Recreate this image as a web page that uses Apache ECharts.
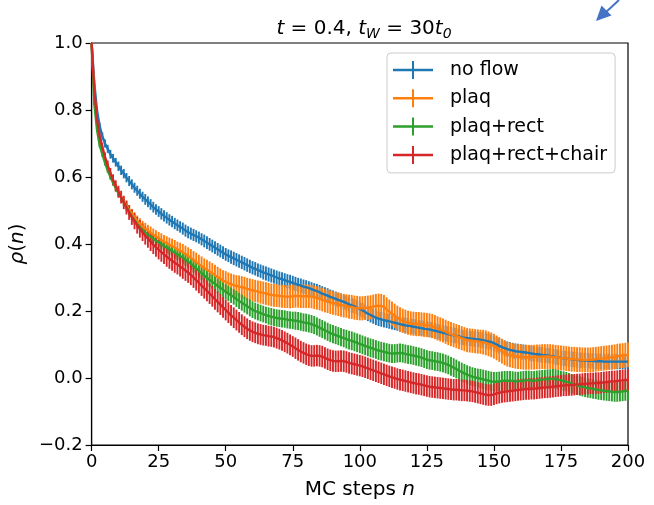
<!DOCTYPE html>
<html><head><meta charset="utf-8">
<script src="https://cdn.jsdelivr.net/npm/echarts@6/dist/echarts.min.js"></script>
<style>html,body{margin:0;padding:0;background:#fff}#c{width:654px;height:505px}</style>
</head><body><div id="c"></div>
<script>
const seriesNames = ['no flow', 'plaq', 'plaq+rect', 'plaq+rect+chair'];
const seriesColors = ['#1f77b4', '#ff7f0e', '#2ca02c', '#d62728'];
const xTickStep = 25;
const yTickStep = 0.2;

// values at MC steps n = 0..200
const noFlow = [
1.000,.880,.800,.752,.722,.700,.684,.668,.656,.644,
.632,.620,.610,.598,.588,.578,.568,.559,.550,.541,
.533,.526,.518,.510,.503,.497,.490,.484,.478,.472,
.467,.461,.456,.451,.446,.440,.435,.431,.427,.423,
.419,.414,.409,.404,.399,.394,.389,.384,.379,.374,
.369,.365,.361,.357,.353,.349,.345,.341,.337,.333,
.329,.326,.322,.319,.315,.312,.309,.306,.303,.300,
.297,.295,.292,.289,.287,.284,.281,.278,.276,.273,
.271,.268,.265,.262,.259,.256,.252,.249,.246,.242,
.239,.236,.233,.230,.227,.224,.220,.217,.214,.210,
.206,.202,.197,.192,.188,.184,.180,.177,.175,.173,
.171,.169,.167,.165,.163,.161,.159,.157,.156,.155,
.153,.152,.150,.149,.147,.146,.145,.143,.141,.139,
.137,.135,.133,.131,.129,.127,.126,.124,.122,.120,
.119,.118,.117,.116,.115,.114,.113,.111,.109,.107,
.104,.100,.096,.092,.089,.086,.084,.082,.080,.079,
.078,.077,.076,.075,.073,.072,.071,.070,.069,.068,
.067,.066,.065,.063,.062,.060,.059,.058,.057,.056,
.055,.054,.053,.053,.052,.052,.051,.051,.050,.050,
.050,.049,.049,.049,.049,.049,.049,.049,.049,.049,
.049];
const noFlowErr = [
0,.008,.009,.010,.011,.012,.012,.013,.013,.013,
.014,.014,.014,.014,.015,.015,.015,.015,.015,.015,
.016,.016,.016,.016,.016,.016,.017,.017,.017,.017,
.017,.017,.017,.017,.018,.018,.018,.018,.018,.018,
.018,.018,.019,.019,.019,.019,.019,.019,.019,.019,
.019,.019,.020,.020,.020,.020,.020,.020,.020,.020,
.020,.020,.020,.020,.021,.021,.021,.021,.021,.021,
.021,.021,.021,.021,.021,.021,.021,.021,.021,.021,
.021,.021,.021,.021,.022,.022,.022,.022,.022,.022,
.022,.022,.022,.022,.022,.022,.022,.022,.022,.022,
.022,.022,.022,.022,.022,.022,.022,.022,.022,.022,
.022,.022,.022,.022,.022,.023,.023,.023,.023,.023,
.023,.023,.023,.023,.023,.023,.023,.023,.023,.023,
.023,.023,.023,.023,.023,.023,.023,.023,.023,.023,
.023,.023,.023,.023,.023,.023,.023,.023,.023,.023,
.023,.023,.023,.023,.023,.023,.023,.023,.023,.023,
.023,.023,.023,.023,.023,.023,.023,.023,.023,.023,
.023,.023,.023,.023,.023,.023,.023,.023,.023,.023,
.023,.023,.023,.023,.023,.023,.023,.023,.023,.023,
.023,.023,.023,.023,.023,.023,.023,.023,.023,.023,
.023];

const plaq = [
1.000,.850,.762,.712,.680,.652,.628,.606,.587,.570,
.555,.541,.527,.514,.502,.491,.480,.470,.461,.453,
.446,.440,.434,.428,.422,.417,.412,.407,.402,.398,
.394,.389,.384,.380,.375,.370,.364,.358,.352,.346,
.340,.334,.328,.323,.318,.313,.307,.301,.296,.291,
.287,.283,.280,.277,.275,.273,.271,.269,.266,.264,
.262,.260,.258,.256,.254,.252,.250,.248,.247,.246,
.245,.244,.243,.243,.243,.244,.245,.245,.244,.244,
.244,.244,.243,.241,.239,.237,.234,.231,.229,.226,
.224,.222,.220,.218,.216,.215,.213,.212,.210,.209,
.208,.208,.209,.210,.211,.213,.215,.216,.215,.212,
.205,.198,.192,.186,.180,.175,.171,.168,.165,.163,
.162,.161,.161,.160,.159,.158,.157,.155,.152,.148,
.145,.142,.138,.134,.131,.128,.125,.122,.119,.116,
.113,.112,.111,.110,.109,.108,.107,.105,.102,.099,
.095,.090,.085,.080,.075,.071,.069,.067,.065,.064,
.063,.062,.062,.062,.062,.062,.063,.063,.064,.064,
.064,.064,.063,.062,.061,.060,.059,.058,.057,.056,
.056,.055,.055,.054,.054,.054,.054,.055,.056,.057,
.058,.059,.060,.061,.062,.063,.065,.066,.067,.068,
.069];
const plaqErr = [
0,.006,.007,.008,.009,.009,.010,.010,.011,.011,
.012,.012,.013,.013,.014,.014,.015,.015,.016,.016,
.017,.017,.018,.018,.019,.019,.020,.020,.021,.021,
.022,.023,.023,.024,.025,.025,.026,.027,.027,.028,
.028,.029,.029,.030,.030,.030,.031,.031,.031,.031,
.032,.032,.032,.032,.032,.033,.033,.033,.033,.033,
.033,.033,.033,.034,.034,.034,.034,.034,.034,.034,
.034,.034,.034,.034,.035,.035,.035,.035,.035,.035,
.035,.035,.035,.035,.035,.035,.035,.035,.035,.035,
.035,.035,.035,.035,.035,.035,.036,.036,.036,.036,
.036,.036,.036,.036,.036,.036,.036,.036,.036,.036,
.036,.036,.036,.036,.036,.036,.036,.036,.036,.036,
.036,.036,.036,.036,.036,.036,.036,.036,.036,.036,
.036,.036,.036,.036,.036,.036,.036,.036,.036,.036,
.036,.036,.036,.036,.036,.036,.037,.037,.037,.037,
.037,.037,.037,.037,.037,.037,.037,.037,.037,.037,
.037,.037,.037,.037,.037,.037,.037,.037,.037,.037,
.037,.037,.037,.037,.037,.037,.037,.037,.037,.037,
.037,.037,.037,.037,.037,.037,.037,.037,.037,.037,
.037,.037,.037,.037,.037,.037,.037,.037,.037,.037,
.037];

const plaqRect = [
1.000,.820,.742,.695,.668,.642,.620,.601,.583,.567,
.552,.538,.524,.510,.496,.483,.471,.460,.450,.441,
.434,.428,.422,.416,.410,.405,.399,.394,.389,.384,
.379,.374,.369,.364,.359,.353,.347,.341,.334,.327,
.320,.313,.306,.299,.293,.287,.281,.275,.269,.263,
.257,.252,.247,.242,.236,.230,.225,.219,.214,.209,
.204,.200,.197,.194,.191,.188,.185,.183,.181,.179,
.178,.177,.176,.174,.173,.172,.171,.170,.168,.166,
.165,.163,.161,.158,.154,.150,.146,.142,.138,.134,
.131,.128,.125,.122,.119,.116,.113,.111,.108,.105,
.102,.099,.096,.093,.090,.088,.085,.082,.080,.078,
.076,.074,.073,.073,.074,.075,.074,.072,.070,.069,
.067,.065,.063,.061,.058,.055,.053,.052,.050,.049,
.047,.045,.042,.039,.035,.031,.027,.022,.018,.014,
.010,.007,.004,.002,.000,-.002,-.004,-.006,-.008,-.010,
-.011,-.011,-.010,-.009,-.008,-.008,-.008,-.009,-.010,-.010,
-.009,-.008,-.007,-.007,-.008,-.008,-.007,-.006,-.005,-.004,
-.003,-.003,-.002,-.003,-.005,-.007,-.009,-.011,-.014,-.017,
-.020,-.022,-.024,-.026,-.028,-.030,-.031,-.033,-.034,-.036,
-.037,-.038,-.039,-.040,-.041,-.042,-.042,-.041,-.040,-.039,
-.038];
const plaqRectErr = [
0,.006,.007,.007,.008,.008,.008,.009,.009,.009,
.010,.010,.010,.011,.011,.011,.012,.012,.012,.013,
.013,.013,.014,.014,.014,.015,.015,.015,.016,.016,
.016,.017,.017,.017,.018,.018,.018,.019,.019,.019,
.020,.020,.020,.021,.021,.021,.022,.022,.022,.022,
.023,.023,.023,.023,.024,.024,.024,.024,.024,.025,
.025,.025,.025,.025,.025,.025,.026,.026,.026,.026,
.026,.026,.026,.026,.026,.026,.027,.027,.027,.027,
.027,.027,.027,.027,.027,.027,.027,.027,.027,.027,
.027,.027,.027,.027,.027,.028,.028,.028,.028,.028,
.028,.028,.028,.028,.028,.028,.028,.028,.028,.028,
.028,.028,.028,.028,.028,.028,.028,.028,.028,.028,
.028,.028,.028,.028,.028,.028,.028,.028,.028,.028,
.028,.028,.028,.028,.028,.028,.028,.028,.028,.028,
.028,.028,.028,.028,.028,.029,.029,.029,.029,.029,
.029,.029,.029,.029,.029,.029,.029,.029,.029,.029,
.029,.029,.029,.029,.029,.029,.029,.029,.029,.029,
.029,.029,.029,.029,.029,.029,.029,.029,.029,.029,
.029,.029,.029,.029,.029,.029,.029,.029,.029,.029,
.029,.029,.029,.029,.029,.029,.029,.029,.029,.029,
.029];

const plaqRectChair = [
1.000,.860,.772,.722,.690,.660,.635,.612,.592,.573,
.556,.540,.524,.509,.494,.480,.468,.456,.445,.435,
.425,.416,.407,.398,.390,.383,.376,.369,.362,.356,
.350,.344,.339,.333,.327,.321,.315,.308,.300,.292,
.284,.276,.268,.260,.252,.244,.235,.227,.219,.211,
.203,.195,.187,.180,.173,.166,.159,.153,.147,.142,
.138,.135,.132,.130,.128,.127,.125,.124,.122,.119,
.116,.112,.108,.104,.099,.094,.089,.084,.079,.075,
.071,.068,.066,.066,.067,.066,.064,.060,.056,.053,
.051,.050,.050,.051,.050,.048,.045,.043,.041,.039,
.037,.035,.032,.029,.026,.023,.020,.017,.014,.011,
.008,.005,.002,.000,-.003,-.005,-.007,-.009,-.011,-.013,
-.015,-.017,-.018,-.020,-.022,-.024,-.026,-.027,-.028,-.029,
-.030,-.031,-.032,-.033,-.034,-.035,-.035,-.036,-.037,-.037,
-.038,-.039,-.040,-.042,-.044,-.046,-.048,-.050,-.051,-.051,
-.049,-.046,-.044,-.042,-.041,-.040,-.039,-.038,-.037,-.036,
-.035,-.034,-.033,-.033,-.032,-.032,-.031,-.030,-.029,-.028,
-.028,-.027,-.026,-.025,-.024,-.023,-.022,-.022,-.021,-.021,
-.020,-.019,-.019,-.018,-.017,-.017,-.016,-.016,-.015,-.015,
-.014,-.013,-.012,-.011,-.010,-.010,-.009,-.008,-.007,-.006,
-.006];
const plaqRectChairErr = [
0,.009,.010,.011,.012,.013,.014,.015,.016,.017,
.018,.019,.020,.021,.022,.023,.024,.025,.026,.026,
.027,.027,.028,.028,.028,.029,.029,.029,.030,.030,
.030,.030,.030,.030,.031,.031,.031,.031,.031,.031,
.031,.031,.031,.031,.031,.031,.031,.031,.031,.031,
.031,.031,.031,.031,.031,.031,.031,.031,.031,.031,
.031,.031,.031,.031,.031,.031,.031,.031,.031,.031,
.031,.031,.031,.031,.031,.031,.032,.032,.032,.032,
.032,.032,.032,.032,.032,.032,.032,.032,.032,.032,
.032,.032,.032,.032,.032,.032,.032,.032,.032,.032,
.032,.032,.032,.032,.032,.032,.032,.032,.032,.032,
.032,.032,.032,.032,.032,.032,.032,.032,.032,.032,
.032,.032,.032,.032,.032,.032,.032,.032,.032,.032,
.032,.032,.032,.032,.032,.032,.032,.032,.032,.032,
.032,.032,.032,.032,.032,.032,.032,.032,.032,.032,
.032,.032,.032,.032,.032,.032,.032,.032,.032,.032,
.032,.032,.032,.032,.032,.032,.032,.032,.032,.032,
.032,.032,.032,.032,.032,.032,.032,.032,.032,.032,
.032,.032,.032,.032,.032,.032,.032,.032,.032,.032,
.032,.032,.032,.032,.032,.032,.032,.032,.032,.032,
.032];

const means = [noFlow, plaq, plaqRect, plaqRectChair];
const errs = [noFlowErr, plaqErr, plaqRectErr, plaqRectChairErr];

const FONT = 'DejaVu Sans';
const chart = echarts.init(document.getElementById('c'), null, {renderer: 'canvas'});

function errRender(params, api) {
  const x = api.value(0), y = api.value(1), e = api.value(2);
  const p1 = api.coord([x, y - e]);
  const p2 = api.coord([x, y + e]);
  return {
    type: 'line',
    shape: {x1: p1[0], y1: p1[1], x2: p2[0], y2: p2[1]},
    style: {stroke: api.visual('color'), lineWidth: 1.9}
  };
}

const series = [];
means.forEach((m, k) => {
  series.push({
    type: 'custom', name: seriesNames[k] + ' err', renderItem: errRender,
    data: m.map((v, i) => [i, v, errs[k][i]]),
    encode: {x: 0, y: 1},
    itemStyle: {color: seriesColors[k]},
    z: 2, silent: true
  });
});
means.forEach((m, k) => {
  series.push({
    type: 'line', name: seriesNames[k],
    data: m.map((v, i) => [i, v]),
    showSymbol: false, symbol: 'none',
    lineStyle: {color: seriesColors[k], width: 2.4},
    itemStyle: {color: seriesColors[k]},
    z: 3, silent: true
  });
});

const crossIcon = 'path://M0,7.75h40v2.5h-40z M19,0h2v18h-2z';

chart.setOption({
  animation: false,
  backgroundColor: '#fff',
  title: {
    text: '{i|t} = 0.4, {i|t}{s|W} = 30{i|t}{s|0}',
    left: 359, top: 11, textAlign: 'center',
    textStyle: {
      fontFamily: FONT, fontSize: 20, fontWeight: 'normal', color: '#000', lineHeight: 25,
      rich: {
        i: {fontFamily: FONT, fontStyle: 'italic', fontSize: 20, lineHeight: 25, color: '#000'},
        s: {fontFamily: FONT, fontStyle: 'italic', fontSize: 14, lineHeight: 11, verticalAlign: 'bottom', color: '#000'}
      }
    }
  },
  legend: {
    data: seriesNames.map(n => ({name: n, icon: crossIcon})),
    orient: 'vertical', left: 387, top: 53,
    itemWidth: 40, itemHeight: 18, itemGap: 8.3,
    padding: [7, 8, 8, 6],
    backgroundColor: 'rgba(255,255,255,0.8)',
    borderColor: '#cccccc', borderWidth: 1, borderRadius: 4,
    itemStyle: {borderWidth: 0},
    textStyle: {fontFamily: FONT, fontSize: 19, color: '#000', lineHeight: 20, padding: [0, 0, 0, 12]},
    selectedMode: false
  },
  grid: {left: 91, right: 26, top: 43, bottom: 60, show: true, borderColor: '#000', borderWidth: 1.2, backgroundColor: 'transparent'},
  xAxis: {
    type: 'value', min: 0, max: 200, interval: xTickStep,
    name: 'MC steps {i|n}', nameLocation: 'middle', nameGap: 35,
    nameTextStyle: {fontFamily: FONT, fontSize: 20, color: '#000',
      rich: {i: {fontFamily: FONT, fontSize: 20, fontStyle: 'italic', color: '#000'}}},
    axisLine: {show: true, onZero: false, lineStyle: {color: '#000', width: 1.2}},
    axisTick: {show: true, length: 6, inside: false, lineStyle: {color: '#000', width: 1.2}},
    axisLabel: {fontFamily: FONT, fontSize: 18, color: '#000', margin: 8},
    splitLine: {show: false}
  },
  yAxis: {
    type: 'value', min: -0.2, max: 1.0, interval: yTickStep,
    name: '{i|ρ}({i|n})', nameLocation: 'middle', nameGap: 57, nameRotate: 90,
    nameTextStyle: {fontFamily: FONT, fontSize: 20, color: '#000',
      rich: {i: {fontFamily: FONT, fontSize: 20, fontStyle: 'italic', color: '#000'}}},
    axisLine: {show: true, onZero: false, lineStyle: {color: '#000', width: 1.2}},
    axisTick: {show: true, length: 6, inside: false, lineStyle: {color: '#000', width: 1.2}},
    axisLabel: {fontFamily: FONT, fontSize: 18, color: '#000', margin: 9,
      formatter: v => (v < -1e-9 ? '\u2212' : '') + Math.abs(v).toFixed(1)},
    splitLine: {show: false}
  },
  graphic: [
    {type: 'line', shape: {x1: 619, y1: 0, x2: 605, y2: 13}, style: {stroke: '#4472c4', lineWidth: 2}},
    {type: 'polygon', shape: {points: [[596, 21], [601.5, 5.5], [611.5, 15.5]]}, style: {fill: '#4472c4'}}
  ],
  series: series
});
</script>
</body></html>
